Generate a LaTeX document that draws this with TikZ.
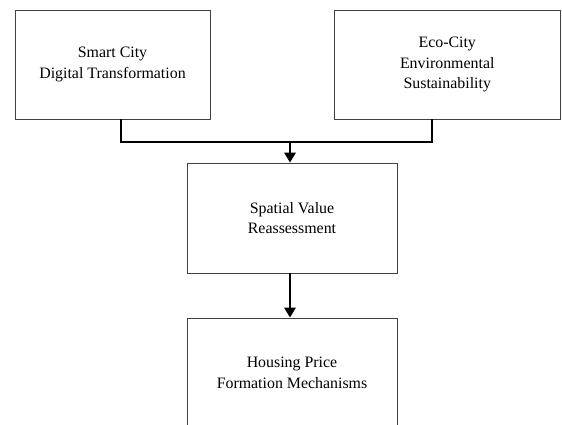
\documentclass[tikz,border=0pt]{standalone}
\usepackage{fontspec}
\setmainfont{Liberation Serif}
\usetikzlibrary{arrows.meta}

\begin{document}
\begin{tikzpicture}
                [
                x=0.025cm, y=-0.025cm,
                box/.style={rectangle,draw=black!75,line width=0.6pt,align=center,inner sep=0pt,
                  font=\fontsize{11.3}{14.8}\selectfont},
                link/.style={line width=1.3pt},
                flow/.style={link,-{Triangle[length=7pt,width=8pt]}}
                ]
            \useasboundingbox (0,0) rectangle (562,425);
            \clip (0,0) rectangle (562,425);
            \node[box,minimum width=4.875cm,minimum height=2.725cm] (smart) at (112.5,64.5) {Smart City\\Digital Transformation};
            \node[box,minimum width=5.66cm,minimum height=2.725cm] (eco) at (447.25,64.5) {Eco-City\\Environmental\\Sustainability};
            \node[box,minimum width=5.25cm,minimum height=2.75cm] (value) at (292,218) {Spatial Value\\Reassessment};
            \node[box,minimum width=5.25cm,minimum height=2.75cm] (price) at (292,373) {Housing Price\\Formation Mechanisms};
            \coordinate (smartout) at ([xshift=0.21cm]smart.south);
            \coordinate (ecoout) at ([xshift=-0.38cm]eco.south);
            \coordinate (join) at ([xshift=-0.05cm]value.north |- 0,142);
            \draw[link] (smartout) |- (join) -| (ecoout);
            \draw[flow] (join) -- (join |- value.north);
            \draw[flow] (join |- value.south) -- (join |- price.north);
            \end{tikzpicture}
\end{document}
